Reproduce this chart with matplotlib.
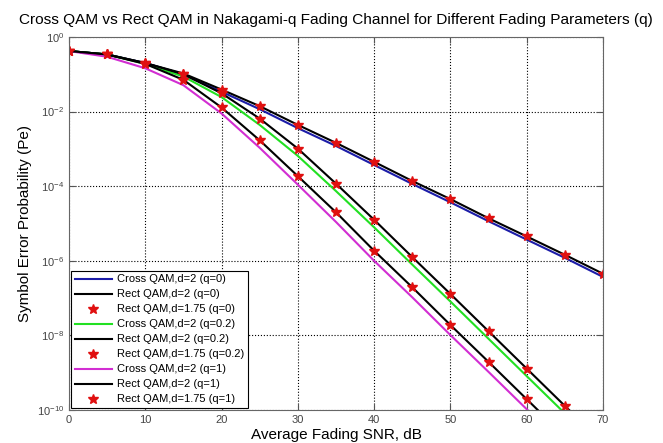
import matplotlib.pyplot as plt
from matplotlib.ticker import FixedLocator, NullLocator

plt.rcParams['font.family'] = ['Liberation Sans', 'DejaVu Sans']

# SNR axis (dB)
snr = [0, 5, 10, 15, 20, 25, 30, 35, 40, 45, 50, 55, 60, 65, 70]

# q = 0
cross_q0 = [0.42, 0.34, 0.20, 0.099, 0.034, 0.0116, 3.6e-3, 1.2e-3, 3.7e-4,
            1.15e-4, 3.7e-5, 1.15e-5, 3.7e-6, 1.2e-6, 3.7e-7]
rect2_q0 = [0.42, 0.34, 0.20, 0.105, 0.039, 0.014, 4.4e-3, 1.45e-3, 4.5e-4,
            1.38e-4, 4.5e-5, 1.38e-5, 4.5e-6, 1.45e-6, 4.5e-7]
rect175_q0 = [0.42, 0.34, 0.20, 0.105, 0.039, 0.014, 4.4e-3, 1.45e-3, 4.5e-4,
              1.38e-4, 4.5e-5, 1.38e-5, 4.5e-6, 1.45e-6, 4.5e-7]

# q = 0.2
cross_q02 = [0.42, 0.34, 0.19, 0.087, 0.0245, 4.4e-3, 6.5e-4, 7.4e-5, 7.9e-6,
             7.9e-7, 8.1e-8, 8.1e-9, 8.1e-10, 8.1e-11, 8.1e-12]
rect2_q02 = [0.42, 0.34, 0.20, 0.10, 0.031, 6.5e-3, 1.02e-3, 1.17e-4, 1.26e-5,
             1.26e-6, 1.29e-7, 1.29e-8, 1.29e-9, 1.29e-10, 1.29e-11]
rect175_q02 = [0.42, 0.34, 0.20, 0.10, 0.031, 6.5e-3, 1.02e-3, 1.17e-4, 1.26e-5,
               1.26e-6, 1.29e-7, 1.29e-8, 1.29e-9, 1.29e-10, 1.29e-11]

# q = 1
cross_q1 = [0.42, 0.295, 0.145, 0.051, 8.9e-3, 1.07e-3, 1.1e-4, 1.1e-5, 1.0e-6,
            1.05e-7, 1.02e-8, 1.05e-9, 1.05e-10, 1.05e-11, 1.05e-12]
rect2_q1 = [0.42, 0.34, 0.19, 0.071, 0.0129, 1.7e-3, 1.86e-4, 2.0e-5, 1.86e-6,
            1.95e-7, 1.9e-8, 1.95e-9, 1.95e-10, 1.95e-11, 1.95e-12]
rect175_q1 = [0.42, 0.34, 0.19, 0.071, 0.0129, 1.7e-3, 1.86e-4, 2.0e-5, 1.86e-6,
              1.95e-7, 1.9e-8, 1.95e-9, 1.95e-10, 1.95e-11, 1.95e-12]

fig = plt.figure(figsize=(6.63, 4.43), dpi=100)
ax = fig.add_axes([0.104, 0.0745, 0.8055, 0.842])

lw = 1.5
mk = dict(linestyle='none', marker='*', color='#e01010', markersize=7)

ax.semilogy(snr, cross_q0, color='#1c1ca8', lw=lw, label='Cross QAM,d=2 (q=0)')
ax.semilogy(snr, rect2_q0, color='black', lw=lw, label='Rect QAM,d=2 (q=0)')
ax.semilogy(snr, rect175_q0, label='Rect QAM,d=1.75 (q=0)', **mk)
ax.semilogy(snr, cross_q02, color='#22e022', lw=lw, label='Cross QAM,d=2 (q=0.2)')
ax.semilogy(snr, rect2_q02, color='black', lw=lw, label='Rect QAM,d=2 (q=0.2)')
ax.semilogy(snr, rect175_q02, label='Rect QAM,d=1.75 (q=0.2)', **mk)
ax.semilogy(snr, cross_q1, color='#d22ed2', lw=lw, label='Cross QAM,d=2 (q=1)')
ax.semilogy(snr, rect2_q1, color='black', lw=lw, label='Rect QAM,d=2 (q=1)')
ax.semilogy(snr, rect175_q1, label='Rect QAM,d=1.75 (q=1)', **mk)

ax.set_xlim(0, 70)
ax.set_ylim(1e-10, 1e0)
ax.set_xticks(range(0, 71, 10))
ax.yaxis.set_major_locator(FixedLocator([1e0, 1e-2, 1e-4, 1e-6, 1e-8, 1e-10]))
ax.yaxis.set_minor_locator(NullLocator())

ax.grid(True, which='major', linestyle=':', color='black', linewidth=0.8)
ax.tick_params(direction='in', top=True, right=True, labelsize=8,
               labelcolor='#444444', color='#555555', length=4)
for s in ax.spines.values():
    s.set_color('#666666')

ax.set_title('Cross QAM vs Rect QAM in Nakagami-q Fading Channel for Different Fading Parameters (q)',
             fontsize=11.1, pad=9)
ax.set_xlabel('Average Fading SNR, dB', fontsize=11, labelpad=2)
ax.set_ylabel('Symbol Error Probability (Pe)', fontsize=11)
ax.yaxis.set_label_coords(-0.07, 0.5)

leg = ax.legend(loc='lower left', fontsize=8, handlelength=3.4, handletextpad=0.45,
                borderaxespad=0.15, fancybox=False, framealpha=1, edgecolor='black',
                borderpad=0.35, labelspacing=0.45)
leg.get_frame().set_linewidth(0.8)

fig.savefig('out.png', dpi=100)
